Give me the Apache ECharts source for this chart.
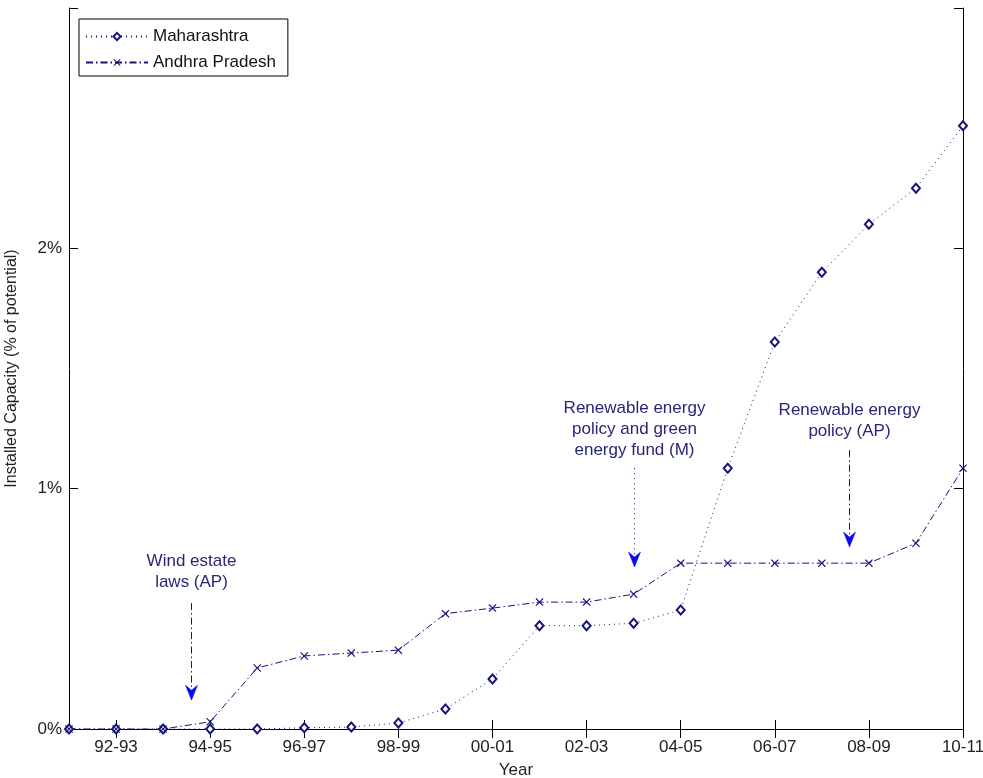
<!DOCTYPE html>
<html>
<head>
<meta charset="utf-8">
<script src="https://cdn.jsdelivr.net/npm/echarts@6/dist/echarts.min.js"></script>
<style>
html,body{margin:0;padding:0;background:#fff;}
#chart{width:983px;height:778px;}
</style>
</head>
<body>
<div id="chart"></div>
<script>
// ---- data ----
var categories = ['91-92','92-93','93-94','94-95','95-96','96-97','97-98','98-99','99-00','00-01',
                  '01-02','02-03','03-04','04-05','05-06','06-07','07-08','08-09','09-10','10-11'];
var maharashtra = [0,0,0,0,0,0.005,0.008,0.025,0.083,0.208,0.43,0.43,0.44,0.495,1.085,1.61,1.90,2.10,2.25,2.51];
var andhraPradesh = [0,0,0,0.03,0.254,0.304,0.316,0.328,0.48,0.503,0.528,0.528,0.561,0.69,0.69,0.69,0.69,0.69,0.773,1.085];
var yTicks = [0,1,2,3];
var yTickLabels = ['0%','1%','2%',''];
var annotations = [
  {lines:['Wind estate','laws (AP)'], x:2.6, textY:0.652, from:0.524, to:0.12, dash:'dashdot'},
  {lines:['Renewable energy','policy and green','energy fund (M)'], x:12, textY:1.247, from:1.085, to:0.674, dash:'dotted'},
  {lines:['Renewable energy','policy (AP)'], x:16.57, textY:1.282, from:1.16, to:0.757, dash:'dashdot'}
];

var FONT = 'Liberation Sans, Arial, sans-serif';
var NAVY = '#14147a';
var TXT = '#26267a';
var dashDot = [7,3,1.5,3];
var dotted = [1,4];
var xSym = 'path://M0,1L1,0L5,4L9,0L10,1L6,5L10,9L9,10L5,6L1,10L0,9L4,5Z';

var chart = echarts.init(document.getElementById('chart'), null, {renderer:'canvas'});

function oddOnly(i){ return i % 2 === 1; }

var baseX = {
  type:'category', data:categories, boundaryGap:false,
  axisLine:{show:true, lineStyle:{color:'#000', width:1}},
  axisTick:{show:true, inside:true, length:9, interval:function(i){return oddOnly(i);}, lineStyle:{color:'#000'}},
  splitLine:{show:false}
};
var baseY = {
  type:'value', min:0, max:3, interval:1,
  axisLine:{show:true, lineStyle:{color:'#000', width:1}},
  axisTick:{show:true, inside:true, length:9, lineStyle:{color:'#000'}},
  splitLine:{show:false}
};

var option = {
  animation:false,
  backgroundColor:'#fff',
  grid:{left:69, right:20, top:8, bottom:49, containLabel:false, outerBoundsMode:'none'},
  legend:{
    orient:'vertical', left:79, top:19,
    backgroundColor:'#fff', borderColor:'#000', borderWidth:1,
    padding:[9,12,5,6], itemGap:9, itemWidth:62, itemHeight:9,
    textStyle:{fontFamily:FONT, fontSize:17, color:'#111'},
    data:['Maharashtra','Andhra Pradesh']
  },
  xAxis:[
    Object.assign({}, baseX, {
      position:'bottom',
      axisLabel:{show:true, interval:function(i){return oddOnly(i);}, margin:10,
        fontFamily:FONT, fontSize:17, color:'#222'},
      name:'Year', nameLocation:'middle', nameGap:33,
      nameTextStyle:{fontFamily:FONT, fontSize:17, color:'#222'}
    }),
    Object.assign({}, baseX, {position:'top', axisLabel:{show:false}})
  ],
  yAxis:[
    Object.assign({}, baseY, {
      position:'left',
      axisLabel:{show:true, margin:7, fontFamily:FONT, fontSize:17, color:'#222',
        formatter:function(v){ var k = yTicks.indexOf(v); return k>=0 ? yTickLabels[k] : ''; }},
      name:'Installed Capacity (% of potential)', nameLocation:'middle', nameGap:49, nameRotate:90,
      nameTextStyle:{fontFamily:FONT, fontSize:16, color:'#222'}
    }),
    Object.assign({}, baseY, {position:'right', axisLabel:{show:false}})
  ],
  series:[
    {
      name:'Maharashtra', type:'line', data:maharashtra, xAxisIndex:0, yAxisIndex:0,
      symbol:'emptyDiamond', symbolSize:[8,9], showAllSymbol:true,
      lineStyle:{color:NAVY, width:1, type:dotted},
      itemStyle:{color:NAVY, borderWidth:0.8},
      emphasis:{disabled:true}
    },
    {
      name:'Andhra Pradesh', type:'line', data:andhraPradesh, xAxisIndex:0, yAxisIndex:0,
      symbol:xSym, symbolSize:8, showAllSymbol:true,
      lineStyle:{color:NAVY, width:1, type:dashDot},
      itemStyle:{color:NAVY},
      emphasis:{disabled:true}
    }
  ]
};
chart.setOption(option);

function xPix(xi){
  var i0 = Math.floor(xi), f = xi - i0;
  var a = chart.convertToPixel({xAxisIndex:0}, categories[i0]);
  if (f === 0 || i0 + 1 >= categories.length) return a;
  var b = chart.convertToPixel({xAxisIndex:0}, categories[i0+1]);
  return a + (b - a) * f;
}
function yPix(v){ return chart.convertToPixel({yAxisIndex:0}, v); }

var g = [];
annotations.forEach(function(an){
  var x = Math.round(xPix(an.x)) + 0.5;
  var y1 = yPix(an.from), y2 = yPix(an.to);
  var ty = yPix(an.textY);
  g.push({type:'line', silent:true,
    shape:{x1:x, y1:y1, x2:x, y2:y2 - 8},
    style:{stroke:NAVY, lineWidth:1, lineDash: an.dash === 'dotted' ? dotted : dashDot}});
  g.push({type:'polygon', silent:true,
    shape:{points:[[x, y2], [x-6, y2-15], [x, y2-10], [x+6, y2-15]]},
    style:{fill:'#0a0af0', stroke:'#0a0af0', lineWidth:0.5}});
  g.push({type:'text', silent:true,
    style:{text:an.lines.join('\n'), x:x, y:ty, align:'center', verticalAlign:'middle',
      font:'17px ' + FONT, fill:TXT, lineHeight:21}});
});
chart.setOption({graphic:g});
</script>
</body>
</html>
